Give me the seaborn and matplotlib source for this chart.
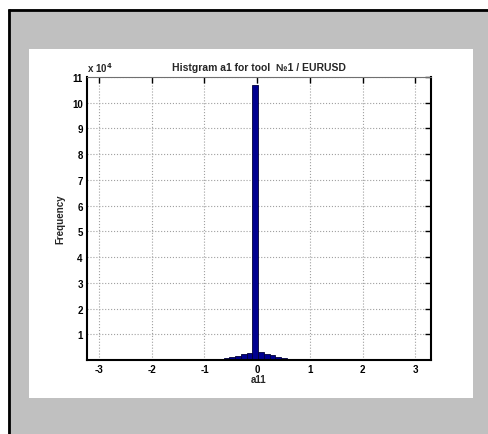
import numpy as np
import pandas as pd
import matplotlib
matplotlib.use("Agg")
import matplotlib.pyplot as plt
import seaborn as sns
from matplotlib.patches import Rectangle

# Data (bin centers and counts)
bin_centers = [-0.6895, -0.5805, -0.4715, -0.3625, -0.2535, -0.1445, -0.0355,
               0.0735, 0.1825, 0.2915, 0.4005, 0.5095, 0.6185, 0.7275]
counts = [300, 600, 1000, 1600, 2200, 2800, 107000,
          3100, 2500, 1900, 1300, 800, 400, 150]
x_ticks = [-3, -2, -1, 0, 1, 2, 3]
y_ticks = [1, 2, 3, 4, 5, 6, 7, 8, 9, 10, 11]
title = "Histgram a1 for tool  №1 / EURUSD"

df = pd.DataFrame({"a11": bin_centers, "count": counts})

sns.set_style("white")
plt.rcParams['font.family'] = ['Liberation Sans', 'DejaVu Sans']
plt.rcParams['font.weight'] = 'bold'

fig = plt.figure(figsize=(4.88, 4.35), dpi=100)
fig.patch.set_facecolor('white')
W, H = 488, 435

def frect(x0, y0, x1, y1, **kw):
    fig.patches.append(Rectangle((x0 / W, 1 - y1 / H), (x1 - x0) / W, (y1 - y0) / H,
                                 transform=fig.transFigure, **kw))

frect(8, 10, 490, 437, facecolor='#c0c0c0', edgecolor='none', zorder=-3)
fig.lines.append(plt.Line2D([8.5 / W, 8.5 / W], [1 - 10 / H, 0], transform=fig.transFigure,
                            color='black', lw=2, zorder=-2, solid_capstyle='butt'))
fig.lines.append(plt.Line2D([8 / W, 1], [1 - 10.5 / H, 1 - 10.5 / H], transform=fig.transFigure,
                            color='black', lw=2, zorder=-2, solid_capstyle='butt'))
frect(29, 50, 473, 399, facecolor='white', edgecolor='none', zorder=-1)

ax = fig.add_axes([87 / W, 1 - 361 / H, (431 - 87) / W, (361 - 78) / H])
ax.set_facecolor('white')

edges = [round(-0.744 + 0.109 * i, 4) for i in range(15)]
sns.histplot(data=df, x="a11", weights="count", bins=edges, ax=ax,
             color='#000090', edgecolor='#00003a', linewidth=0.6, alpha=1.0)

ax.set_xlim(-3.23, 3.3)
ax.set_ylim(0, 110000)
ax.set_xticks(x_ticks)
ax.set_xticklabels([str(v) for v in x_ticks])
ax.set_yticks([v * 10000 for v in y_ticks])
ax.set_yticklabels([str(v) for v in y_ticks])
ax.tick_params(direction='in', length=4, width=1, labelsize=7, pad=3, colors='black',
               top=True, right=True)
for lbl in ax.get_xticklabels() + ax.get_yticklabels():
    lbl.set_fontweight('bold')

ax.grid(True, linestyle=':', color='#a0a0a0', linewidth=0.8)
ax.set_axisbelow(True)
for name, s in ax.spines.items():
    s.set_visible(True)
    if name == 'top':
        s.set_color('#707070')
        s.set_linewidth(0.8)
    else:
        s.set_color('black')
        s.set_linewidth(1.5)

ax.set_xlabel('a11', fontsize=7, fontweight='bold', labelpad=0)
ax.set_ylabel('Frequency', fontsize=7, fontweight='bold', labelpad=5)
ax.set_title(title, fontsize=7.5, fontweight='bold', pad=5)
ax.text(0.0, 1.01, r'x 10$^{4}$', transform=ax.transAxes, fontsize=7, fontweight='bold',
        ha='left', va='bottom')

fig.savefig('out.png', dpi=100)
